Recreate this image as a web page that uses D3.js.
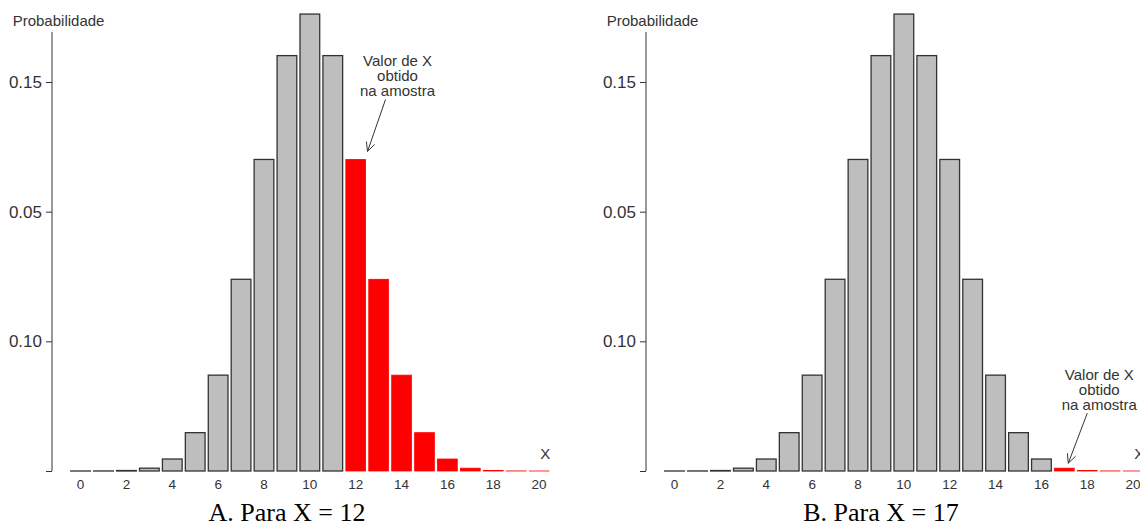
<!DOCTYPE html>
<html>
<head>
<meta charset="utf-8">
<script src="https://cdn.jsdelivr.net/npm/d3@7"></script>
<style>
  body { margin: 0; background: #fff; }
  svg { display: block; }
  text { font-family: "Liberation Sans", Arial, sans-serif; fill: #333; }
  .caption { font-family: "Liberation Serif", "Times New Roman", serif; fill: #000; }
</style>
</head>
<body>
<svg id="chart"></svg>
<script>
// Binomial probabilities (n = 20)
const xValues = d3.range(0, 21);
const probs = [0.000001, 0.000019, 0.000181, 0.001087, 0.004621, 0.014786,
  0.036964, 0.073929, 0.120134, 0.160179, 0.176197, 0.160179, 0.120134,
  0.073929, 0.036964, 0.014786, 0.004621, 0.001087, 0.000181, 0.000019, 0.000001];

// y ticks, labelled exactly as in the original figure
const yTickValues = [0, 0.05, 0.10, 0.15];
const yTickLabels = ['', '0.10', '0.05', '0.15'];
const xTickLabels = [0, 2, 4, 6, 8, 10, 12, 14, 16, 18, 20];

const panels = [
  { left: 0, observed: 12, caption: 'A. Para X = 12', tipDx: 1.1, tipDy: -8, tail: [18, -52] },
  { left: 594, observed: 17, caption: 'B. Para X = 17', tipDx: 0.7, tipDy: -5, tail: [19, -50] }
];
const noteLines = ['Valor de X', 'obtido', 'na amostra'];

const width = 1140, height = 526;
const svg = d3.select('#chart').attr('width', width).attr('height', height);

const y = d3.scaleLinear().domain([0, 0.15]).range([471, 82]);

panels.forEach(p => {
  const g = svg.append('g').attr('transform', `translate(${p.left},0)`);
  const axisX = 52;

  const x = d3.scaleBand()
    .domain(xValues)
    .range([69.1, 550.6])
    .paddingInner(0.14)
    .paddingOuter(0.07);
  const bw = x.bandwidth();

  // bars
  g.append('g')
    .selectAll('rect')
    .data(xValues)
    .enter().append('rect')
    .attr('x', d => x(d))
    .attr('y', d => y(probs[d]))
    .attr('width', bw)
    .attr('height', d => y(0) - y(probs[d]))
    .attr('fill', d => d >= p.observed ? '#ff0000' : '#bebebe')
    .attr('stroke', d => d >= p.observed ? '#ff0000' : '#333')
    .attr('stroke-width', d => d >= p.observed ? 0.8 : 1.3);

  // y axis
  const yAxis = d3.axisLeft(y)
    .tickValues(yTickValues)
    .tickFormat((d, i) => yTickLabels[i])
    .tickSize(6)
    .tickSizeOuter(0)
    .tickPadding(4);
  const ya = g.append('g')
    .attr('transform', `translate(${axisX},0)`)
    .call(yAxis);
  ya.select('.domain').remove();
  ya.append('line')
    .attr('x1', 0).attr('x2', 0)
    .attr('y1', y(0)).attr('y2', y(0.1693))
    .attr('stroke', '#333');
  ya.selectAll('.tick line').attr('stroke', '#333');
  ya.selectAll('.tick text')
    .attr('fill', '#333')
    .style('font-size', '17px')
    .style('font-family', '"Liberation Sans", Arial, sans-serif');

  // x tick labels (no axis line)
  g.append('g')
    .selectAll('text')
    .data(xTickLabels)
    .enter().append('text')
    .attr('x', d => x(d) + bw / 2)
    .attr('y', 489)
    .attr('text-anchor', 'middle')
    .style('font-size', '13.5px')
    .text(d => d);

  g.append('text')
    .attr('x', 12.7)
    .attr('y', 26)
    .style('font-size', '15px')
    .text('Probabilidade');

  g.append('text')
    .attr('x', x(20) + bw / 2 + 6)
    .attr('y', y(0) - 12)
    .attr('text-anchor', 'middle')
    .style('font-size', '15px')
    .attr('fill', '#444')
    .text('X');

  // annotation arrow pointing at the observed value
  const tipX = x(p.observed) + bw * p.tipDx;
  const tipY = y(probs[p.observed]) + p.tipDy;
  const tailX = tipX + p.tail[0];
  const tailY = tipY + p.tail[1];
  const ang = Math.atan2(tipY - tailY, tipX - tailX);
  const head = 10, spread = 0.45;
  g.append('line')
    .attr('x1', tailX).attr('y1', tailY)
    .attr('x2', tipX).attr('y2', tipY)
    .attr('stroke', '#333');
  g.append('path')
    .attr('d', `M${tipX - head * Math.cos(ang - spread)},${tipY - head * Math.sin(ang - spread)}
      L${tipX},${tipY}
      L${tipX - head * Math.cos(ang + spread)},${tipY - head * Math.sin(ang + spread)}`)
    .attr('fill', 'none')
    .attr('stroke', '#333');

  g.append('g')
    .selectAll('text')
    .data(noteLines)
    .enter().append('text')
    .attr('x', tailX + 12)
    .attr('y', (d, i) => tailY - 3 - (noteLines.length - 1 - i) * 15)
    .attr('text-anchor', 'middle')
    .style('font-size', '15px')
    .attr('fill', '#444')
    .text(d => d);

  g.append('text')
    .attr('class', 'caption')
    .attr('x', axisX + 235)
    .attr('y', 521)
    .attr('text-anchor', 'middle')
    .style('font-size', '26px')
    .text(p.caption);
});
</script>
</body>
</html>
